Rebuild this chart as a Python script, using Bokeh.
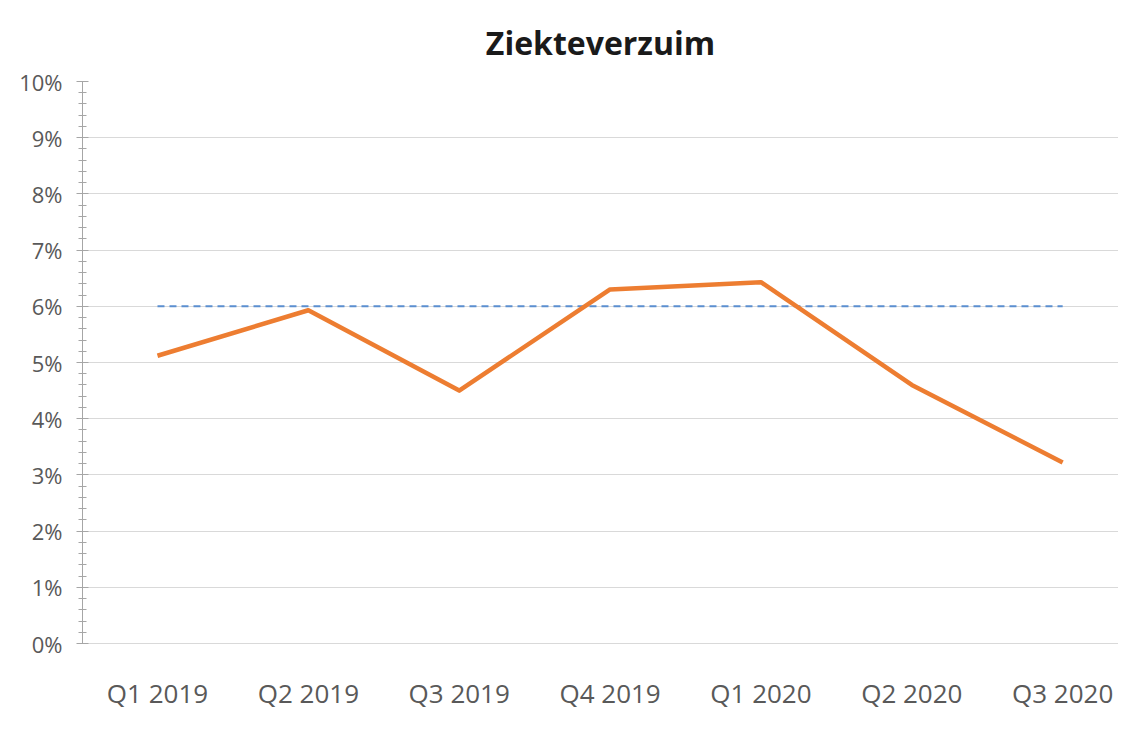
from bokeh.plotting import figure
from bokeh.models import FixedTicker, PrintfTickFormatter, Range1d, ColumnDataSource
from bokeh.embed import file_html
from bokeh.resources import INLINE

quarters = ["Q1 2019", "Q2 2019", "Q3 2019", "Q4 2019", "Q1 2020", "Q2 2020", "Q3 2020"]
verzuim = [5.12, 5.93, 4.50, 6.30, 6.43, 4.60, 3.22]
norm = [6, 6, 6, 6, 6, 6, 6]
y_ticks = [0, 1, 2, 3, 4, 5, 6, 7, 8, 9, 10]

xs = list(range(len(quarters)))
src = ColumnDataSource(dict(x=xs, verzuim=verzuim, norm=norm))

p = figure(width=1118, height=725, output_backend="svg", toolbar_location=None,
           x_range=Range1d(-0.497, 6.37), y_range=Range1d(0, 10),
           min_border_left=82, min_border_right=0, min_border_top=81, min_border_bottom=82)

p.title.text = "Ziekteverzuim"
p.title.align = "center"
p.title.text_font = "Open Sans"
p.title.text_font_style = "bold"
p.title.text_font_size = "32px"
p.title.text_color = "#1a1a1a"
p.title.standoff = 36

p.outline_line_color = None
p.background_fill_color = "white"
p.border_fill_color = "white"

p.line("x", "norm", source=src, line_color="#5B8FD0", line_width=2, line_dash="7 5")
p.line("x", "verzuim", source=src, line_color="#ED7D31", line_width=4.5, line_join="round")

# y axis
p.yaxis.ticker = FixedTicker(ticks=y_ticks, minor_ticks=[i * 0.2 for i in range(51)])
p.yaxis.formatter = PrintfTickFormatter(format="%d%%")
p.yaxis.axis_line_color = "#a6a6a6"
p.yaxis.major_tick_line_color = "#a6a6a6"
p.yaxis.minor_tick_line_color = "#a6a6a6"
p.yaxis.major_tick_in = 6
p.yaxis.major_tick_out = 6
p.yaxis.minor_tick_in = 4
p.yaxis.minor_tick_out = 4
p.yaxis.major_label_standoff = 14
p.yaxis.major_label_text_font = "Open Sans"
p.yaxis.major_label_text_font_size = "22px"
p.yaxis.major_label_text_color = "#595959"

# x axis
p.xaxis.ticker = FixedTicker(ticks=xs)
p.xaxis.major_label_overrides = {i: q for i, q in enumerate(quarters)}
p.xaxis.axis_line_color = "#d9d9d9"
p.xaxis.major_tick_line_color = None
p.xaxis.minor_tick_line_color = None
p.xaxis.major_label_standoff = 25
p.xaxis.major_label_text_font = "Open Sans"
p.xaxis.major_label_text_font_size = "26px"
p.xaxis.major_label_text_color = "#595959"

p.xgrid.grid_line_color = None
p.ygrid.grid_line_color = "#d9d9d9"
p.ygrid.grid_line_width = 1

open("out.html", "w").write(file_html(p, INLINE))
